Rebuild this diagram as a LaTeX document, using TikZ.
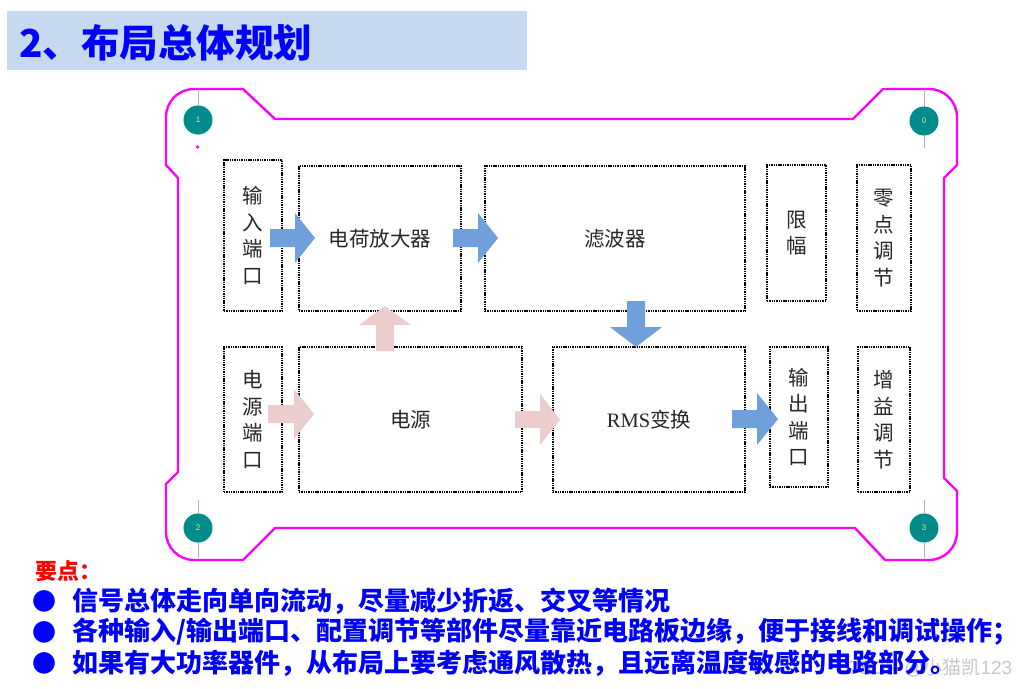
\documentclass[tikz,border=0pt]{standalone}
\usepackage{fontspec}
\setmainfont{Liberation Serif}
\newfontfamily\cjk{Noto Sans CJK SC}
\newfontfamily\lsans{Liberation Sans}
\definecolor{boardmag}{RGB}{255,0,255}
\definecolor{padteal}{RGB}{0,140,140}
\definecolor{padline}{RGB}{200,160,210}
\definecolor{padnum}{RGB}{230,230,140}
\definecolor{arrblue}{RGB}{112,160,220}
\definecolor{arrpink}{RGB}{236,204,204}
\definecolor{titlebg}{RGB}{198,217,240}
\definecolor{titleblue}{RGB}{0,0,255}
\definecolor{wmgray}{RGB}{200,200,200}
\tikzset{
  box/.style={draw=black, line width=1.3pt, dash pattern=on 1.4pt off 0.9pt, inner sep=0pt, align=center,
     font=\cjk\fontsize{20.5}{26.5}\selectfont, text=black!85},
  pad/.style={circle, fill=padteal, minimum size=29pt, inner sep=0pt, font=\lsans\fontsize{8}{8}\selectfont, text=padnum},
  padstem/.style={draw=padline, line width=0.8pt},
  board/.style={draw=boardmag, line width=2.4pt, line join=round},
  bullettext/.style={anchor=west, inner sep=0pt, font=\cjk\bfseries\fontsize{26}{27}\selectfont, text=titleblue},
  bulletdot/.style={inner sep=0pt, font=\cjk\fontsize{24}{24}\selectfont, text=titleblue},
}
\begin{document}
\begin{tikzpicture}[x=1pt,y=-1pt]
\useasboundingbox (0,0) rectangle (1025,688);
% title
\fill[titlebg] (7,11) rectangle (527,70);
\node[anchor=west, inner sep=0pt, font=\cjk\bfseries\fontsize{38.5}{40}\selectfont, text=titleblue] (title) at (19,43) {2、布局总体规划};

% board outline
\draw[board] (166,165) -- (166,117) .. controls (166,101.5) and (178.5,89) .. (194,89)
  -- (243,89) -- (275,119) -- (853,119) -- (883,89) -- (929,89)
  .. controls (944.5,89) and (957,101.5) .. (957,117) -- (957,165) -- (944,178) -- (944,478) -- (957,491)
  -- (957,532) .. controls (957,547.5) and (944.5,560) .. (929,560) -- (885,560) -- (855,528)
  -- (275,528) -- (243,560) -- (194,560) .. controls (178.5,560) and (166,547.5) .. (166,532)
  -- (166,484) -- (178,472) -- (178,178) -- cycle;

% pads
\coordinate (p1a) at (198,89); \coordinate (p1b) at (198,135);
\coordinate (p0a) at (924,89); \coordinate (p0b) at (924,148);
\coordinate (p2a) at (198,500); \coordinate (p2b) at (198,558);
\coordinate (p3a) at (924,500); \coordinate (p3b) at (924,558);
\draw[padstem] (p1a) -- (p1b);
\draw[padstem] (p0a) -- (p0b);
\draw[padstem] (p2a) -- (p2b);
\draw[padstem] (p3a) -- (p3b);
\fill[boardmag] (197.5,147) circle (1.8pt);
\node[pad] (pad1) at (198,120) {1};
\node[pad] (pad0) at (924,121) {0};
\node[pad] (pad2) at (198,528) {2};
\node[pad] (pad3) at (924,528) {3};

% boxes
\node[box, minimum width=58pt, minimum height=151pt] (inport) at (253,235.5) {输\\入\\端\\口};
\node[box, minimum width=162pt, minimum height=145pt] (amp) at (380,238.5) {电荷放大器};
\node[box, minimum width=260pt, minimum height=145pt] (filter) at (615,238.5) {滤波器};
\node[box, minimum width=59pt, minimum height=136pt] (limit) at (796.5,233) {限\\幅};
\node[box, minimum width=54pt, minimum height=146pt] (zero) at (884,238) {零\\点\\调\\节};
\node[box, minimum width=58pt, minimum height=145pt] (pwrport) at (253,419.5) {电\\源\\端\\口};
\node[box, minimum width=223pt, minimum height=145pt] (power) at (410.5,419.5) {电源};
\node[box, minimum width=192pt, minimum height=145pt] (rms) at (649,419.5) {{\rmfamily RMS}变换};
\node[box, minimum width=58pt, minimum height=140pt] (outport) at (799,417) {输\\出\\端\\口};
\node[box, minimum width=52pt, minimum height=145pt] (gain) at (884,419.5) {增\\益\\调\\节};

% block arrows
\fill[arrblue] (270,229) -- (295,229) -- (295,213) -- (315,238) -- (295,263) -- (295,247) -- (270,247) -- cycle;
\fill[arrblue] (453,229) -- (478,229) -- (478,213) -- (498,238) -- (478,263) -- (478,247) -- (453,247) -- cycle;
\fill[arrblue] (627,301) -- (645,301) -- (645,327) -- (662,327) -- (636,347) -- (610,327) -- (627,327) -- cycle;
\fill[arrpink] (376,351) -- (394,351) -- (394,325) -- (411,325) -- (385,306) -- (359,325) -- (376,325) -- cycle;
\fill[arrpink] (268,405) -- (294,405) -- (294,389) -- (314,414) -- (294,439) -- (294,423) -- (268,423) -- cycle;
\fill[arrpink] (515,411) -- (540,411) -- (540,394) -- (560,419.5) -- (540,445) -- (540,428) -- (515,428) -- cycle;
\fill[arrblue] (732,410) -- (757,410) -- (757,393) -- (778,419) -- (757,445) -- (757,428) -- (732,428) -- cycle;

% watermark
\node[anchor=west, inner sep=0pt, font=\lsans\fontsize{19}{20}\selectfont, text=wmgray] (wm) at (845,668) {CSDN @{\cjk 小猫凯}123};

% notes
\node[anchor=west, inner sep=0pt, font=\cjk\bfseries\fontsize{22}{24}\selectfont, text=red] (keyp) at (35,571) {要点：};
\node[bulletdot] (b1) at (44,601) {●};
\node[bulletdot] (b2) at (44,632) {●};
\node[bulletdot] (b3) at (44,663) {●};
\node[bullettext] (t1) at (72,601) {信号总体走向单向流动，尽量减少折返、交叉等情况};
\node[bullettext] (t2) at (72,632) {各种输入/输出端口、配置调节等部件尽量靠近电路板边缘，便于接线和调试操作；};
\node[bullettext] (t3) at (72,663) {如果有大功率器件，从布局上要考虑通风散热，且远离温度敏感的电路部分。};
\end{tikzpicture}
\end{document}
